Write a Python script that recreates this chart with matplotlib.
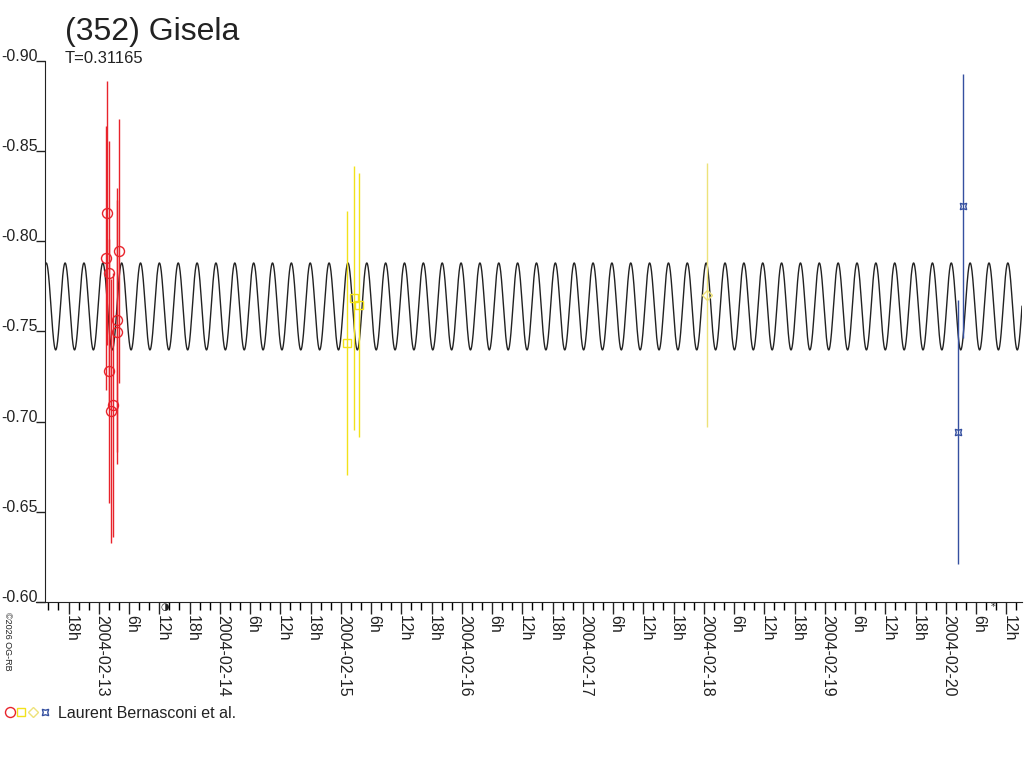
import numpy as np
import pandas as pd
import matplotlib
matplotlib.use('Agg')
import matplotlib.pyplot as plt
import matplotlib.dates as mdates
import matplotlib.transforms as mtransforms
from matplotlib.lines import Line2D
from matplotlib.legend_handler import HandlerTuple
from matplotlib.ticker import FuncFormatter

plt.rcParams['font.family'] = ['Liberation Sans', 'DejaVu Sans']

# Obserwacje (czas UT, jasnosc zredukowana, blad)
red_time = ['2004-02-13 01:42', '2004-02-13 03:58', '2004-02-13 01:30',
            '2004-02-13 02:06', '2004-02-13 03:34', '2004-02-13 03:41',
            '2004-02-13 02:03', '2004-02-13 02:54', '2004-02-13 02:30']
red_mag = [-0.8154, -0.7945, -0.7908, -0.7822, -0.7563, -0.7498,
           -0.7280, -0.7092, -0.7060]
red_err = [0.0732, 0.0732, 0.0732, 0.0732, 0.0732, 0.0732, 0.0732, 0.0732, 0.0732]

yellow_time = ['2004-02-15 01:11', '2004-02-15 02:34', '2004-02-15 03:42']
yellow_mag = [-0.7437, -0.7687, -0.7644]
yellow_err = [0.0732, 0.0732, 0.0732]

diamond_time = ['2004-02-18 00:43']
diamond_mag = [-0.7702]
diamond_err = [0.0732]

blue_time = ['2004-02-20 03:26', '2004-02-20 02:27']
blue_mag = [-0.8195, -0.6942]
blue_err = [0.0732, 0.0732]

# Model Fouriera krzywej blasku
period = 0.31165
epoch = '2004-02-13 00:48'
mag0 = -0.7638
harm_amp = [0.0, 0.0241]   # amplitudy harmonicznych k=1, 2

# Fazy Ksiezyca pod osia
moon_time = ['2004-02-13 13:09', '2004-02-20 09:19']
moon_sym = ['\u25d1', '*']

x_start = '2004-02-12 13:20'
x_end = '2004-02-20 15:07'
yticks = [-0.90, -0.85, -0.80, -0.75, -0.70, -0.65, -0.60]

fig = plt.figure(figsize=(10.24, 7.68), dpi=100)
ax = fig.add_axes([45 / 1024, 1 - 602 / 768, (1022 - 45) / 1024, (602 - 60.7) / 768])

x0 = mdates.date2num(pd.Timestamp(x_start))
x1 = mdates.date2num(pd.Timestamp(x_end))
t0 = mdates.date2num(pd.Timestamp(epoch))

# Krzywa modelu
t = np.linspace(x0, x1, 6000)
model = np.full_like(t, mag0)
for k, a in enumerate(harm_amp, start=1):
    model -= a * np.cos(2 * np.pi * k * (t - t0) / period)
ax.plot(t, model, color='#222222', lw=1.0, zorder=2)

# Punkty pomiarowe
series = [
    (red_time, red_mag, red_err, 'o', '#e8232b', 7.2),
    (yellow_time, yellow_mag, yellow_err, 's', '#f2e21a', 5.8),
    (diamond_time, diamond_mag, diamond_err, 'D', '#ede27a', 5.5),
    (blue_time, blue_mag, blue_err, (4, 1, 45), '#3550a0', 6.5),
]
handles = []
for times, mags, errs, mk, col, ms in series:
    tt = mdates.date2num(pd.to_datetime(times))
    ax.errorbar(tt, mags, yerr=errs, fmt='none', ecolor=col, elinewidth=1,
                capsize=0, zorder=3)
    ax.plot(tt, mags, ls='none', marker=mk, mfc='none', mec=col, mew=1,
            ms=ms, zorder=4)
    handles.append(Line2D([], [], ls='none', marker=mk, mfc='none', mec=col,
                          mew=1, ms=ms))

ax.set_xlim(x0, x1)
ax.set_ylim(-0.60, -0.90)

# Os Y
ax.set_yticks(yticks)
ax.yaxis.set_major_formatter(FuncFormatter(lambda v, p: f'{v:.2f}'))
ax.tick_params(axis='y', length=6.5, width=1, pad=-1.2, labelsize=11.5,
               colors='#222222')

# Os X
def fmt_date(x, pos):
    d = mdates.num2date(x)
    if d.hour == 0:
        return d.strftime('%Y-%m-%d')
    return f'{d.hour}h'

ax.xaxis.set_major_locator(mdates.HourLocator(byhour=[0, 6, 12, 18]))
ax.xaxis.set_minor_locator(mdates.HourLocator(byhour=range(0, 24, 2)))
ax.xaxis.set_major_formatter(FuncFormatter(fmt_date))
ax.tick_params(axis='x', which='major', length=8.5, width=1, pad=1,
               labelsize=11.5, colors='#222222')
ax.tick_params(axis='x', which='minor', length=5.5, width=1)

for side in ['top', 'right']:
    ax.spines[side].set_visible(False)
for side in ['left', 'bottom']:
    ax.spines[side].set_color('#222222')
ax.spines['bottom'].set_bounds(x0 - 0.075, x1)

# Symbole faz Ksiezyca
trans = mtransforms.blended_transform_factory(ax.transData, ax.transAxes)
for mt, sym in zip(moon_time, moon_sym):
    ax.text(mdates.date2num(pd.Timestamp(mt)), -0.01, sym, transform=trans,
            ha='center', va='center', fontsize=7, color='#222222',
            family=['DejaVu Sans'])

# Tytul i opisy
fig.text(65 / 1024, 1 - 40 / 768, '(352) Gisela', fontsize=23,
         va='baseline', ha='left', color='#222222')
fig.text(65 / 1024, 1 - 63 / 768, f'T={period}', fontsize=12,
         va='baseline', ha='left', color='#222222')
fig.text(3 / 1024, 1 - 612 / 768, '\u00a92026 OG-RB', fontsize=6.5,
         rotation=-90, va='top', ha='left', color='#222222')

fig.legend(handles=[tuple(handles)], labels=['Laurent Bernasconi et al.'],
           handler_map={tuple: HandlerTuple(ndivide=None, pad=0.2)},
           loc='center left', bbox_to_anchor=(0.0, 1 - 713 / 768),
           frameon=False, fontsize=11.5, handlelength=2.7,
           handletextpad=0.6, borderaxespad=0.25, borderpad=0.1,
           labelcolor='#222222')

# Ustawienie etykiet po narysowaniu (pionowe, tuz za kreska)
fig.canvas.draw()
shift = mtransforms.ScaledTranslation(-3.5 / 72, 0, fig.dpi_scale_trans)
for lbl in ax.get_xticklabels():
    lbl.set_rotation(-90)
    lbl.set_horizontalalignment('left')
    lbl.set_verticalalignment('top')
    lbl.set_transform(lbl.get_transform() + shift)
for lbl in ax.get_yticklabels():
    lbl.set_verticalalignment('baseline')

fig.savefig('out.png', dpi=100)
